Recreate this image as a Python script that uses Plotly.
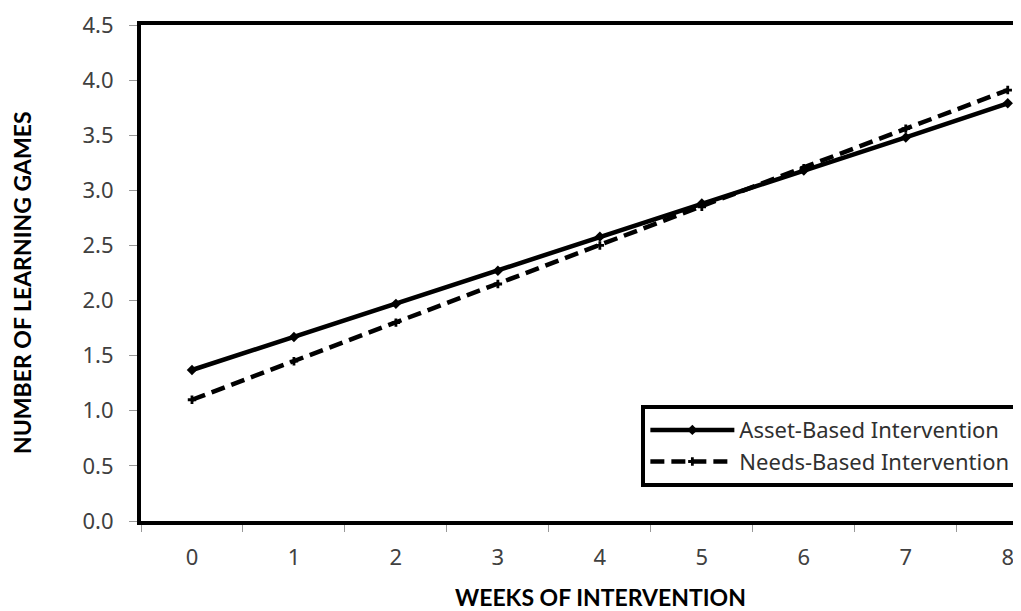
import plotly.graph_objects as go

weeks = ["0", "1", "2", "3", "4", "5", "6", "7", "8"]
asset_based = [1.37, 1.67, 1.97, 2.27, 2.58, 2.88, 3.18, 3.48, 3.79]
needs_based = [1.10, 1.45, 1.80, 2.15, 2.50, 2.85, 3.20, 3.56, 3.91]
y_ticks = [0.0, 0.5, 1.0, 1.5, 2.0, 2.5, 3.0, 3.5, 4.0, 4.5]

FONT = "Noto Sans"
TITLE_FONT = "Lato"

fig = go.Figure()
fig.add_trace(go.Scatter(
    x=weeks, y=asset_based, mode="lines+markers",
    name="Asset-Based Intervention",
    line=dict(color="black", width=4.5),
    marker=dict(symbol="diamond", size=8, color="black"),
))
fig.add_trace(go.Scatter(
    x=weeks, y=needs_based, mode="lines+markers",
    name="Needs-Based Intervention",
    line=dict(color="black", width=4.5, dash="14px,7px"),
    marker=dict(symbol="cross", size=7, color="black"),
))

fig.update_layout(
    width=1013, height=603,
    margin=dict(l=133, r=0, t=17, b=90),
    paper_bgcolor="white", plot_bgcolor="white",
    font=dict(family=FONT, color="#404040", size=22),
    showlegend=True,
    legend=dict(
        x=0.997, y=0.151, xanchor="right", yanchor="middle",
        bgcolor="white", bordercolor="black", borderwidth=4,
        font=dict(family=FONT, size=22, color="#303030"),
        itemwidth=84,
    ),
    annotations=[
        dict(text="<b>WEEKS OF INTERVENTION</b>", xref="paper", yref="paper",
             x=0.5216, y=-0.153, xanchor="center", yanchor="middle",
             showarrow=False,
             font=dict(family=TITLE_FONT, size=23, color="black")),
        dict(text="<b>NUMBER OF LEARNING GAMES</b>", xref="paper", yref="paper",
             x=-0.1352, y=0.48, xanchor="center", yanchor="middle",
             textangle=-90, showarrow=False,
             font=dict(family=TITLE_FONT, size=23, color="black")),
    ],
)
fig.update_xaxes(
    type="category", range=[-0.5, 8.13],
    tickson="boundaries", ticks="outside", ticklen=7, tickcolor="#999999",
    ticklabelstandoff=14,
    showline=True, linecolor="black", linewidth=4, mirror=True,
    showgrid=False, zeroline=False,
    tickfont=dict(size=22, color="#404040"),
)
fig.update_yaxes(
    range=[0, 4.5], tickvals=y_ticks, tickformat=".1f",
    ticks="outside", ticklen=8, tickcolor="#999999",
    ticklabelstandoff=11,
    showline=True, linecolor="black", linewidth=4, mirror=False,
    showgrid=False, zeroline=False,
    tickfont=dict(size=22, color="#404040"),
)

fig.write_html("out.html")
